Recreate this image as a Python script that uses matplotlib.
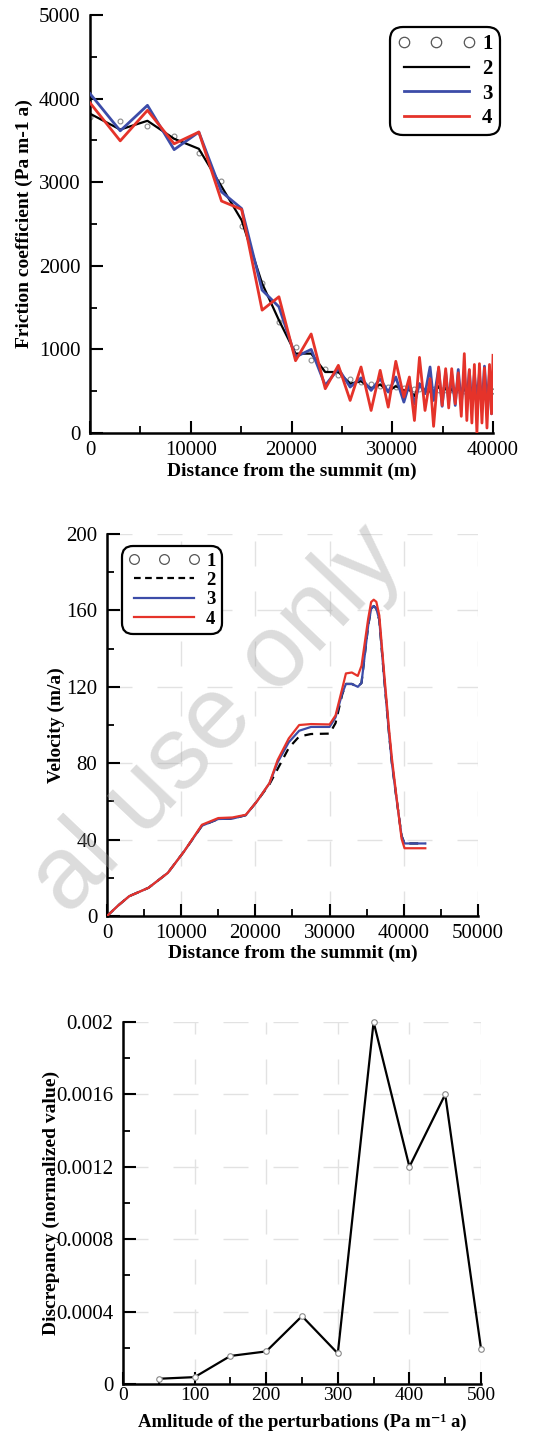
import matplotlib
matplotlib.use("Agg")
import matplotlib.pyplot as plt
from matplotlib.lines import Line2D
from matplotlib.ticker import MultipleLocator, FuncFormatter

plt.rcParams['font.family'] = ['Liberation Serif', 'DejaVu Serif']

# ---------------- Panel 1: friction coefficient ----------------
fric_x = [0, 3000, 5700, 8350, 10800, 13050, 15050, 17080, 18750, 20400, 21950,
          23350, 24650, 25820, 26900, 27900, 28800, 29600, 30350, 31150, 31700,
          32200, 32700, 33250, 33750, 34100, 34600, 34950, 35300, 35600, 35900,
          36250, 36550, 36850, 37150, 37400, 37650, 37900, 38150, 38400, 38650,
          38900, 39150, 39400, 39650, 39850, 40000]
fric_1 = [3775, 3735, 3670, 3550, 3345, 3015, 2475, 1790, 1330, 1035, 870,
          770, 690, 645, 607, 588, 560, 550, 550, 540, 535,
          530, 525, 520, 520, 525, 520, 515, 520, 510, 515,
          520, 510, 515, 505, 510, 515, 505, 510, 500, 505,
          510, 500, 505, 500, 505, 500]
fric_2 = [3820, 3630, 3735, 3520, 3400, 2950, 2545, 1790, 1350, 950, 950,
          730, 730, 590, 620, 530, 580, 500, 560, 510, 520,
          440, 590, 500, 500, 470, 560, 480, 540, 480, 530,
          470, 530, 480, 540, 470, 520, 490, 530, 470, 520,
          480, 520, 470, 530, 480, 500]
fric_3 = [4060, 3615, 3920, 3390, 3600, 2885, 2685, 1710, 1510, 910, 1000,
          570, 770, 550, 660, 510, 650, 490, 670, 370, 590,
          350, 590, 470, 790, 390, 770, 320, 730, 380, 700,
          330, 760, 350, 720, 370, 750, 330, 700, 400, 720,
          300, 800, 350, 720, 230, 650]
fric_4 = [3950, 3495, 3860, 3460, 3600, 2775, 2675, 1470, 1630, 865, 1185,
          530, 810, 390, 790, 270, 750, 310, 858, 430, 670,
          150, 905, 270, 650, 80, 790, 330, 770, 300, 770,
          350, 720, 200, 950, 150, 760, 120, 820, 0, 830,
          120, 780, 60, 820, 230, 930]

# ---------------- Panel 2: velocity ----------------
vel_x = [0, 1500, 3000, 5600, 8200, 10400, 12800, 15000, 16900, 18700, 20200,
         21900, 23000, 24500, 25900, 27500, 30000, 30800, 31700, 32200, 33000,
         33800, 34300, 35200, 35600, 35950, 36300, 36700, 37300, 38000, 38400,
         39000, 39700, 40100, 42900]
vel_2 = [0, 5.5, 10.4, 14.8, 22.6, 33.9, 47.3, 50.8, 51.0, 52.8, 60,
         69, 77, 88, 94, 95.3, 95.5, 101, 116, 121.5, 121.5,
         120, 122, 152, 160.9, 162.3, 161, 155, 127, 96, 80,
         62, 42, 38, 38]
vel_3 = [0, 5.5, 10.4, 14.8, 22.6, 33.9, 47.3, 50.8, 51.0, 52.8, 60,
         69.5, 80.5, 91, 97, 99, 99, 104, 116.5, 121.5, 121.5,
         120, 122, 152, 160.9, 162.3, 161, 155, 127, 96, 80,
         62, 42, 38, 38]
vel_4 = [0, 5.5, 10.4, 14.8, 22.6, 33.9, 47.8, 51.3, 51.6, 53, 60,
         69.6, 81.7, 93, 100, 100.5, 100.3, 105, 119, 127, 127.5,
         125.7, 131, 155.6, 164.4, 165.6, 164.5, 157.4, 129.6, 98.3, 82.6,
         63, 40.5, 35.5, 35.5]

# ---------------- Panel 3: discrepancy ----------------
amp = [50, 100, 150, 200, 250, 300, 350, 400, 450, 500]
disc = [0.000029, 0.000038, 0.000155, 0.00018, 0.000375, 0.000169,
        0.002, 0.0012, 0.0016, 0.000195]

legend_labels = ['1', '2', '3', '4']

RED = '#e5332a'
BLUE = '#3c4ca8'
GRID = '#e2e2e2'
TICK_FS = 15
LABEL_FS = 14

fig = plt.figure(figsize=(5.39, 14.32), dpi=100)


def style_axes(ax, xpad=6, xsize=TICK_FS):
    for s in ['top', 'right']:
        ax.spines[s].set_visible(False)
    for s in ['left', 'bottom']:
        ax.spines[s].set_linewidth(1.8)
    ax.tick_params(which='major', direction='in', length=9, width=1.5,
                   labelsize=TICK_FS)
    ax.tick_params(which='minor', direction='in', length=5, width=1.3)
    ax.tick_params(axis='x', which='major', pad=xpad, labelsize=xsize)
    ax.tick_params(axis='y', which='major', pad=7)


def make_legend(ax, handles, loc, anchor, size, spacing, hlen):
    leg = ax.legend(handles, legend_labels, loc=loc, bbox_to_anchor=anchor,
                    numpoints=3, handlelength=hlen, handletextpad=0.35,
                    labelspacing=spacing, borderpad=0.35, borderaxespad=0,
                    fancybox=True, framealpha=1, edgecolor='black',
                    prop={'weight': 'bold', 'size': size})
    fr = leg.get_frame()
    fr.set_linewidth(1.6)
    fr.set_boxstyle('round,pad=0,rounding_size=0.6')
    return leg


# ---- Panel 1 ----
ax1 = fig.add_axes([0.167, 0.6976, 0.7477, 0.2919])
style_axes(ax1)
ax1.plot(fric_x, fric_2, color='black', lw=1.6, zorder=3)
ax1.plot(fric_x, fric_3, color=BLUE, lw=2.0, zorder=4)
ax1.plot(fric_x, fric_4, color=RED, lw=2.0, zorder=5)
ax1.plot(fric_x, fric_1, linestyle='none', marker='o', ms=3.5, mfc='none',
         mec='#8a8a8a', mew=0.8, zorder=2)
ax1.set_xlim(0, 40000)
ax1.set_ylim(0, 5000)
ax1.xaxis.set_major_locator(MultipleLocator(10000))
ax1.xaxis.set_minor_locator(MultipleLocator(5000))
ax1.yaxis.set_major_locator(MultipleLocator(1000))
ax1.yaxis.set_minor_locator(MultipleLocator(500))
ax1.set_xlabel('Distance from the summit (m)', fontsize=LABEL_FS,
               fontweight='bold', labelpad=2)
ax1.set_ylabel('Friction coefficient (Pa m-1 a)', fontsize=LABEL_FS,
               fontweight='bold')
ax1.yaxis.set_label_coords(-0.141, 0.5)
h1 = [Line2D([], [], ls='none', marker='o', ms=7.5, mfc='none', mec='#555555', mew=0.9),
      Line2D([], [], color='black', lw=1.6),
      Line2D([], [], color=BLUE, lw=2.0),
      Line2D([], [], color=RED, lw=2.0)]
make_legend(ax1, h1, 'upper right', (1.017, 0.971), 15, 0.22, 3.7)

# ---- Panel 2 ----
ax2 = fig.add_axes([0.1985, 0.3603, 0.6883, 0.2668])
style_axes(ax2)
ax2.grid(True, which='major', color=GRID, linestyle=(0, (18, 18)), lw=1.0)
ax2.set_axisbelow(True)
ax2.plot(vel_x, vel_2, color='black', lw=1.6, ls=(0, (4, 3)), zorder=3)
ax2.plot(vel_x, vel_3, color=BLUE, lw=1.6, zorder=4)
ax2.plot(vel_x, vel_4, color=RED, lw=1.6, zorder=5)
ax2.set_xlim(0, 50000)
ax2.set_ylim(0, 200)
ax2.xaxis.set_major_locator(MultipleLocator(10000))
ax2.xaxis.set_minor_locator(MultipleLocator(5000))
ax2.yaxis.set_major_locator(MultipleLocator(40))
ax2.yaxis.set_minor_locator(MultipleLocator(20))
ax2.set_xlabel('Distance from the summit (m)', fontsize=LABEL_FS,
               fontweight='bold', labelpad=1)
ax2.set_ylabel('Velocity (m/a)', fontsize=LABEL_FS, fontweight='bold')
ax2.yaxis.set_label_coords(-0.114, 0.5)
h2 = [Line2D([], [], ls='none', marker='o', ms=7, mfc='none', mec='#555555', mew=0.9),
      Line2D([], [], color='black', lw=1.6, ls=(0, (3, 2))),
      Line2D([], [], color=BLUE, lw=1.6),
      Line2D([], [], color=RED, lw=1.6)]
make_legend(ax2, h2, 'upper left', (0.04, 0.969), 13.5, 0.12, 3.8)

# ---- Panel 3 ----
ax3 = fig.add_axes([0.2282, 0.03352, 0.6642, 0.2528])
style_axes(ax3, xpad=2.5, xsize=14)
ax3.grid(True, which='major', color=GRID, linestyle=(0, (18, 18)), lw=1.0)
ax3.set_axisbelow(True)
ax3.plot(amp, disc, color='black', lw=1.6, marker='o', ms=4, mfc='white',
         mec='#888888', mew=0.8, zorder=3, clip_on=False)
ax3.set_xlim(0, 500)
ax3.set_ylim(0, 0.002)
ax3.xaxis.set_major_locator(MultipleLocator(100))
ax3.xaxis.set_minor_locator(MultipleLocator(50))
ax3.yaxis.set_major_locator(MultipleLocator(0.0004))
ax3.yaxis.set_minor_locator(MultipleLocator(0.0002))
ax3.yaxis.set_major_formatter(FuncFormatter(lambda v, p: f"{v:g}"))
ax3.set_xlabel('Amlitude of the perturbations (Pa m\u207b\u00b9 a)',
               fontsize=13.5, fontweight='bold')
ax3.xaxis.label.set_verticalalignment('bottom')
ax3.xaxis.set_label_coords(0.5, -0.1298)
ax3.set_ylabel('Discrepancy (normalized value)', fontsize=LABEL_FS,
               fontweight='bold')
ax3.yaxis.set_label_coords(-0.176, 0.5)

# watermark
fig.text(0.405, 0.497, 'al use only', rotation=46.5, fontsize=74,
         family='Liberation Sans', color='#9a9a9a', alpha=0.35,
         ha='center', va='center', zorder=10)

fig.savefig('out.png', dpi=100)
